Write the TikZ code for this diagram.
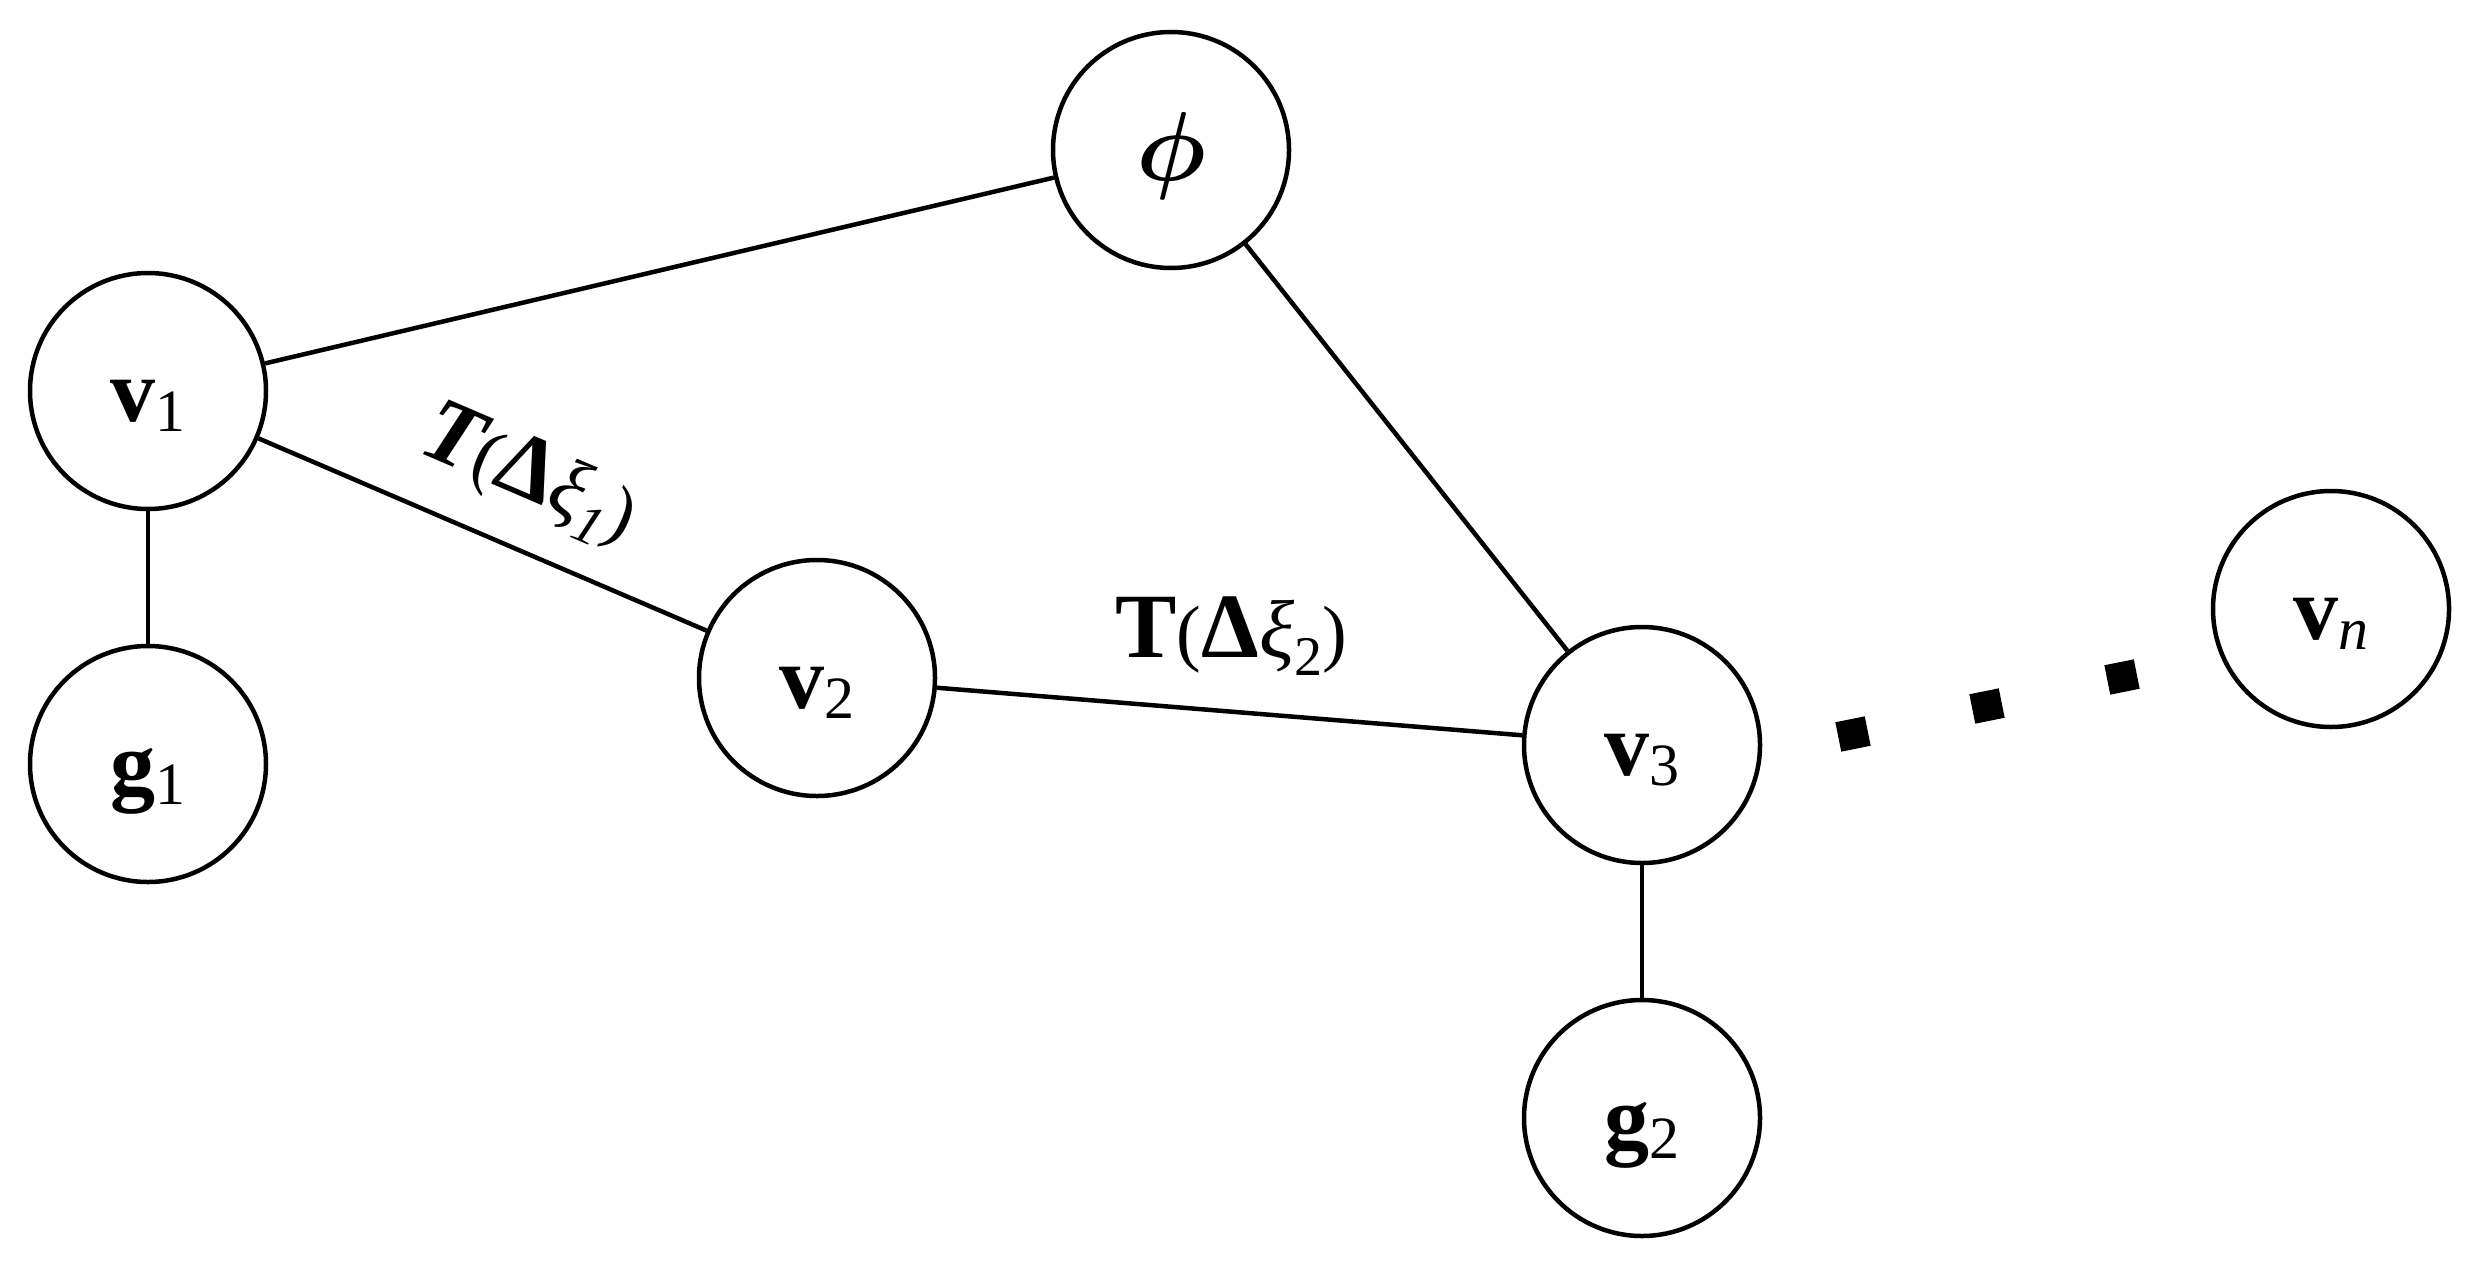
\documentclass[tikz,border=0pt]{standalone}
\usepackage{graphicx}
\usepackage{fontspec}
\setmainfont{Liberation Serif}
\newcommand{\nsub}[1]{\raisebox{-10pt}{\fontsize{60}{60}\selectfont #1}}
\newcommand{\lsub}[1]{\raisebox{-18pt}{\fontsize{56}{56}\selectfont #1}}
\newcommand{\lxi}{{\fontsize{82}{82}\selectfont\itshape ξ}}
\newcommand{\lpar}[1]{{\fontsize{74}{74}\selectfont #1}}
\newcommand{\bigphi}{{\fontsize{10}{12}\selectfont\boldmath\scalebox{9.8}{$\phi$}}}
\begin{document}
\begin{tikzpicture}[x=1pt,y=1pt,
  vnode/.style={circle, draw, line width=4.5pt, minimum size=236pt, inner sep=0pt,
    text height=60pt, text depth=0pt, font=\fontsize{90}{90}\selectfont},
  edge/.style={line width=4.5pt},
  dotsq/.style={fill, minimum size=30pt, inner sep=0pt, rotate=11.4},
  lab/.style={inner sep=0pt, anchor=base, font=\fontsize{92}{92}\selectfont}]
\useasboundingbox (0,0) rectangle (2478,-1263);
\node[vnode] (v1) at (148,-391) {{\bfseries v}\nsub{1}};
\node[vnode] (g1) at (148,-764) {{\bfseries g}\nsub{1}};
\node[vnode] (phi) at (1171,-150) {\bigphi};
\node[vnode] (v2) at (817,-678) {{\bfseries v}\nsub{2}};
\node[vnode] (v3) at (1642,-745) {{\bfseries v}\nsub{3}};
\node[vnode] (g2) at (1642,-1118) {{\bfseries g}\nsub{2}};
\node[vnode] (vn) at (2331,-609) {{\bfseries v}\nsub{\itshape n}};
\node[dotsq] (d1) at (1853,-734) {};
\node[dotsq] (d2) at (1987,-706) {};
\node[dotsq] (d3) at (2122,-677) {};
\draw[edge] (v1) -- (phi);
\draw[edge] (v1) -- (g1);
\draw[edge] (phi) -- (v3);
\draw[edge] (v3) -- (g2);
\draw[edge] (v1) -- node[lab, sloped, pos=0.54, yshift=50pt] (l1)
  {{\bfseries\itshape T}\lpar{(}\textbf{Δ}\lxi\lsub{\itshape 1}\lpar{)}} (v2);
\draw[edge] (v2) -- node[lab, pos=0.503, yshift=54pt] (l2)
  {{\bfseries T}\lpar{(}\textbf{Δ}\lxi\lsub{2}\lpar{)}} (v3);
\end{tikzpicture}
\end{document}
